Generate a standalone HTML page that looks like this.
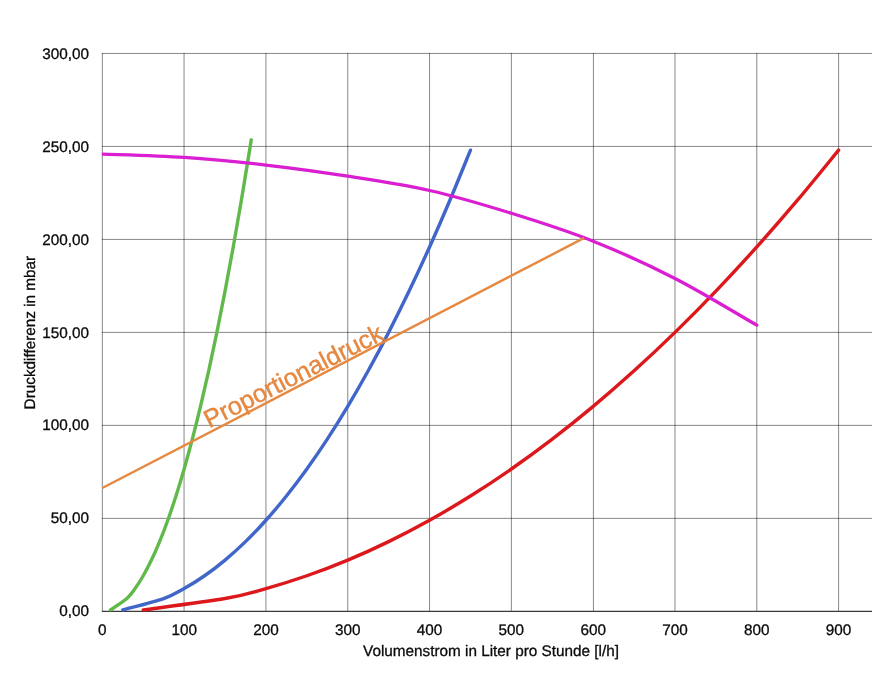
<!DOCTYPE html>
<html lang="de"><head><meta charset="utf-8"><title>Pumpenkennlinie</title>
<style>html,body{margin:0;padding:0;background:#fff}body{width:872px;height:680px;overflow:hidden}svg{display:block;will-change:transform}text{font-family:"Liberation Sans",sans-serif}</style></head><body>
<svg width="872" height="680" viewBox="0 0 872 680">
<rect width="872" height="680" fill="#ffffff"/>
<g stroke="#000000" stroke-opacity="0.47" stroke-width="1" fill="none">
<line x1="102.34" y1="52.94" x2="102.34" y2="611.35"/>
<line x1="184.05" y1="52.94" x2="184.05" y2="611.35"/>
<line x1="265.95" y1="52.94" x2="265.95" y2="611.35"/>
<line x1="347.76" y1="52.94" x2="347.76" y2="611.35"/>
<line x1="429.57" y1="52.94" x2="429.57" y2="611.35"/>
<line x1="511.37" y1="52.94" x2="511.37" y2="611.35"/>
<line x1="593.42" y1="52.94" x2="593.42" y2="611.35"/>
<line x1="674.99" y1="52.94" x2="674.99" y2="611.35"/>
<line x1="756.79" y1="52.94" x2="756.79" y2="611.35"/>
<line x1="838.60" y1="52.94" x2="838.60" y2="611.35"/>
<line x1="101.84" y1="518.37" x2="872" y2="518.37"/>
<line x1="101.84" y1="425.38" x2="872" y2="425.38"/>
<line x1="101.84" y1="332.39" x2="872" y2="332.39"/>
<line x1="101.84" y1="239.41" x2="872" y2="239.41"/>
<line x1="101.84" y1="146.42" x2="872" y2="146.42"/>
<line x1="101.84" y1="53.44" x2="872" y2="53.44"/>
</g>
<line x1="101.84" y1="611.35" x2="872" y2="611.35" stroke="#3a3a3a" stroke-width="1.2"/>
<g fill="none" stroke-linecap="round" stroke-linejoin="round">
<path d="M110.52 609.93 C113.25 608.03 122.79 602.10 126.88 598.54 C130.97 594.98 132.34 592.37 135.06 588.57 C137.79 584.78 140.52 580.51 143.24 575.76 C145.97 571.02 148.70 565.80 151.42 560.10 C154.15 554.41 156.88 548.24 159.60 541.60 C162.33 534.96 165.06 527.84 167.79 520.25 C170.51 512.66 173.24 504.59 175.97 496.05 C178.69 487.51 181.42 478.49 184.15 469.00 C186.87 459.51 189.60 449.55 192.33 439.11 C195.05 428.67 197.78 417.76 200.51 406.37 C203.23 394.98 205.96 383.12 208.69 370.78 C211.42 358.45 214.14 345.63 216.87 332.35 C219.60 319.06 222.32 305.30 225.05 291.07 C227.78 276.83 230.50 262.12 233.23 246.94 C235.96 231.76 238.68 216.10 241.41 199.97 C244.14 183.83 247.96 160.17 249.59 150.14 C251.23 140.12 250.96 141.56 251.23 139.84" stroke="#60b94a" stroke-width="3.4"/>
<path d="M122.79 609.93 C129.61 608.03 153.47 602.10 163.69 598.54 C173.92 594.98 177.33 592.37 184.15 588.57 C190.96 584.78 197.78 580.51 204.60 575.76 C211.42 571.02 218.23 565.80 225.05 560.10 C231.87 554.41 238.68 548.24 245.50 541.60 C252.32 534.96 259.14 527.84 265.95 520.25 C272.77 512.66 279.59 504.59 286.40 496.05 C293.22 487.51 300.04 478.49 306.86 469.00 C313.67 459.51 320.49 449.55 327.31 439.11 C334.13 428.67 340.94 417.76 347.76 406.37 C354.58 394.98 361.39 383.12 368.21 370.78 C375.03 358.45 381.85 345.63 388.66 332.35 C395.48 319.06 402.30 305.30 409.12 291.07 C415.93 276.83 422.75 262.12 429.57 246.94 C436.38 231.76 443.20 216.10 450.02 199.97 C456.84 183.83 467.06 158.45 470.47 150.14" stroke="#4166c9" stroke-width="3.4"/>
<path d="M143.24 609.93 C156.88 608.03 204.60 602.10 225.05 598.54 C245.50 594.98 252.32 592.37 265.95 588.57 C279.59 584.78 293.22 580.51 306.86 575.76 C320.49 571.02 334.13 565.80 347.76 560.10 C361.39 554.41 375.03 548.24 388.66 541.60 C402.30 534.96 415.93 527.84 429.57 520.25 C443.20 512.66 456.84 504.59 470.47 496.05 C484.10 487.51 497.74 478.49 511.37 469.00 C525.01 459.51 538.64 449.55 552.28 439.11 C565.91 428.67 579.55 417.76 593.18 406.37 C606.81 394.98 620.45 383.12 634.08 370.78 C647.72 358.45 661.35 345.63 674.99 332.35 C688.62 319.06 702.26 305.30 715.89 291.07 C729.52 276.83 743.16 262.12 756.79 246.94 C770.43 231.76 784.06 216.10 797.70 199.97 C811.33 183.83 831.78 158.45 838.60 150.14" stroke="#dc181c" stroke-width="3.4"/>
<clipPath id="plot"><rect x="101.84" y="0" width="800" height="680"/></clipPath>
<path d="M102.34 154.05 C115.97 154.61 156.88 155.57 184.15 157.40 C211.42 159.23 238.68 161.89 265.95 165.02 C293.22 168.15 320.49 171.93 347.76 176.18 C375.03 180.43 402.30 184.32 429.57 190.50 C456.84 196.68 484.10 204.84 511.37 213.28 C538.64 221.73 565.91 230.31 593.18 241.18 C620.45 252.04 647.72 264.47 674.99 278.46 C702.26 292.46 743.16 317.36 756.79 325.14" stroke="#d91fd1" stroke-width="3.3" clip-path="url(#plot)"/>
<line x1="102.34" y1="488.05" x2="584.18" y2="237.92" stroke="#e68840" stroke-width="2.4" stroke-linecap="butt"/>
</g>
<g font-size="15.3" fill="#0a0a0a" stroke="#0a0a0a" stroke-width="0.3" text-rendering="geometricPrecision">
<text x="89" y="616.45" text-anchor="end">0,00</text>
<text x="89" y="523.47" text-anchor="end">50,00</text>
<text x="89" y="430.48" text-anchor="end">100,00</text>
<text x="89" y="337.50" text-anchor="end">150,00</text>
<text x="89" y="244.51" text-anchor="end">200,00</text>
<text x="89" y="151.52" text-anchor="end">250,00</text>
<text x="89" y="58.54" text-anchor="end">300,00</text>
<text x="102.34" y="635" text-anchor="middle">0</text>
<text x="184.15" y="635" text-anchor="middle">100</text>
<text x="265.95" y="635" text-anchor="middle">200</text>
<text x="347.76" y="635" text-anchor="middle">300</text>
<text x="429.57" y="635" text-anchor="middle">400</text>
<text x="511.37" y="635" text-anchor="middle">500</text>
<text x="593.18" y="635" text-anchor="middle">600</text>
<text x="674.99" y="635" text-anchor="middle">700</text>
<text x="756.79" y="635" text-anchor="middle">800</text>
<text x="838.60" y="635" text-anchor="middle">900</text>
<text x="491" y="656.4" text-anchor="middle">Volumenstrom in Liter pro Stunde [l/h]</text>
<text transform="translate(34.7 332.6) rotate(-90)" text-anchor="middle">Druckdifferenz in mbar</text>
</g>
<text transform="translate(209.20 428.40) rotate(-26.884)" font-size="25.2" fill="#e68840" stroke="#e68840" stroke-width="0.45" text-rendering="geometricPrecision">Proportionaldruck</text>
</svg></body></html>
